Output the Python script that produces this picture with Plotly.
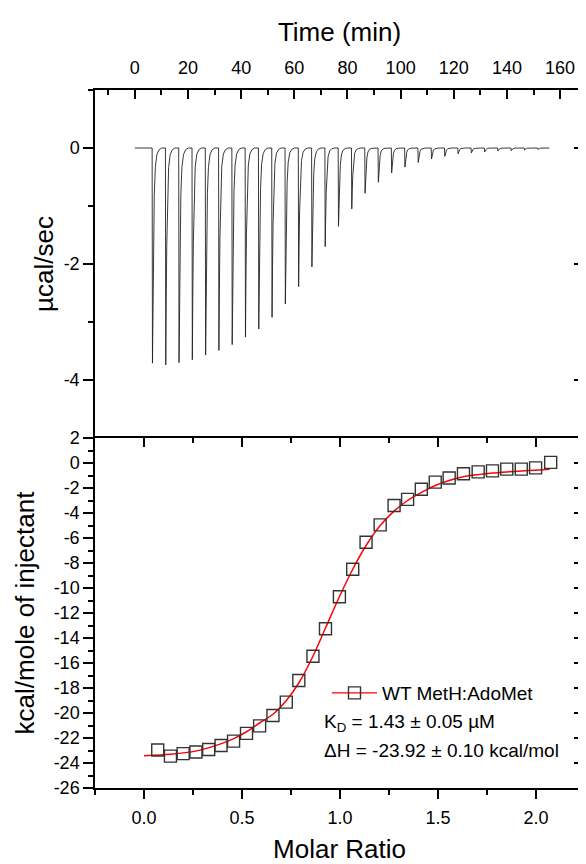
import plotly.graph_objects as go

FONT = "Liberation Sans, Arial, sans-serif"

# ---------------- Raw thermogram (top panel) ----------------
inj_start_min = [6.5, 11.5, 16.5, 21.5, 26.5, 31.5, 36.5, 41.5, 46.5, 51.5,
                 56.5, 61.5, 66.5, 71.5, 76.5, 81.5, 86.5, 91.5, 96.5, 101.5,
                 106.5, 111.5, 116.5, 121.5, 126.5, 131.5, 136.5, 141.5, 146.5, 151.5]
peak_ucal_s = [-3.71, -3.74, -3.70, -3.65, -3.57, -3.49, -3.39, -3.26, -3.12, -2.92,
               -2.69, -2.39, -2.05, -1.70, -1.35, -1.05, -0.78, -0.59, -0.43, -0.33,
               -0.25, -0.19, -0.145, -0.10, -0.086, -0.069, -0.052, -0.047, -0.035, -0.024]
baseline_start_min = 0.0
baseline_end_min = 156.0
# typical injection peak profile (time offset, fraction of peak)
profile_dt_min = [0.0, 0.12, 0.3, 0.5, 0.8, 1.2, 1.8, 2.6, 3.6]
profile_frac = [0.0, 1.0, 0.7, 0.45, 0.22, 0.09, 0.03, 0.008, 0.0]

time_ticks = [0, 20, 40, 60, 80, 100, 120, 140, 160]
time_ticktext = ["0", "20", "40", "60", "80", "100", "120", "140", "160"]
power_ticks = [0, -2, -4]
power_ticktext = ["0", "-2", "-4"]

# ---------------- Integrated heats (bottom panel) ----------------
molar_ratio = [0.07, 0.135, 0.20, 0.265, 0.33, 0.393, 0.457, 0.523, 0.59, 0.658,
               0.726, 0.79, 0.862, 0.926, 0.997, 1.065, 1.133, 1.205, 1.276, 1.345,
               1.415, 1.486, 1.557, 1.630, 1.705, 1.778, 1.851, 1.925, 1.998, 2.075]
heat_kcal = [-22.96, -23.45, -23.25, -23.12, -22.92, -22.6, -22.25, -21.63, -21.03, -20.2,
             -19.13, -17.4, -15.46, -13.26, -10.7, -8.5, -6.34, -4.95, -3.4, -2.91,
             -2.1, -1.53, -1.2, -0.86, -0.71, -0.63, -0.49, -0.49, -0.39, 0.05]

fit_x = [0.0, 0.136, 0.263, 0.395, 0.458, 0.523, 0.59, 0.658, 0.726, 0.79,
         0.862, 0.926, 0.997, 1.065, 1.133, 1.205, 1.276, 1.345, 1.416, 1.486,
         1.557, 1.63, 1.705, 1.778, 1.851, 1.925, 1.998, 2.07]
fit_y = [-23.42, -23.3, -23.05, -22.45, -22.05, -21.5, -20.8, -20.1, -19.0, -17.6,
         -15.46, -13.2, -10.7, -8.5, -6.6, -5.0, -3.85, -3.0, -2.35, -1.8,
         -1.4, -1.1, -0.93, -0.8, -0.71, -0.64, -0.57, -0.5]

ratio_ticks = [0.0, 0.5, 1.0, 1.5, 2.0]
ratio_ticktext = ["0.0", "0.5", "1.0", "1.5", "2.0"]
heat_ticks = [2, 0, -2, -4, -6, -8, -10, -12, -14, -16, -18, -20, -22, -24, -26]
heat_ticktext = ["2", "0", "-2", "-4", "-6", "-8", "-10", "-12", "-14", "-16",
                 "-18", "-20", "-22", "-24", "-26"]

legend_name = "WT MetH:AdoMet"
kd_text = "K<sub>D</sub> = 1.43 ± 0.05 µM"
dh_text = "ΔH = -23.92 ± 0.10 kcal/mol"

# build thermogram trace
t_vals = [baseline_start_min]
p_vals = [0.0]
for ts, h in zip(inj_start_min, peak_ucal_s):
    for dt, f in zip(profile_dt_min, profile_frac):
        t_vals.append(ts + dt)
        p_vals.append(h * f)
t_vals.append(baseline_end_min)
p_vals.append(0.0)

fig = go.Figure()
fig.add_trace(go.Scatter(x=t_vals, y=p_vals, mode="lines", xaxis="x", yaxis="y",
                         line=dict(color="#222222", width=0.9), showlegend=False,
                         hoverinfo="skip"))
fig.add_trace(go.Scatter(x=fit_x, y=fit_y, mode="lines", xaxis="x2", yaxis="y2",
                         line=dict(color="#ff0000", width=1.5, shape="spline", smoothing=0.8),
                         showlegend=False))
fig.add_trace(go.Scatter(x=molar_ratio, y=heat_kcal, mode="markers", xaxis="x2", yaxis="y2",
                         marker=dict(symbol="square-open", size=12, color="#333333",
                                     line=dict(width=1.4, color="#333333")),
                         showlegend=False))
# legend entry (line + square)
fig.add_trace(go.Scatter(x=[None], y=[None], mode="lines+markers", xaxis="x2", yaxis="y2",
                         name=legend_name,
                         line=dict(color="#ff0000", width=1.2),
                         marker=dict(symbol="square-open", size=12, color="#333333",
                                     line=dict(width=1.4, color="#333333"))))
# invisible traces to carry the mirror-tick axes
fig.add_trace(go.Scatter(x=[None], y=[None], xaxis="x", yaxis="y3", showlegend=False,
                         hoverinfo="skip"))
fig.add_trace(go.Scatter(x=[None], y=[None], xaxis="x4", yaxis="y4", showlegend=False,
                         hoverinfo="skip"))

split = 350 / 698
tickfont = dict(family=FONT, size=18, color="black")
titlefont = dict(family=FONT, size=26, color="black")
common = dict(showgrid=False, zeroline=False, linecolor="black", linewidth=1.5,
              tickcolor="black", tickwidth=1.5, tickfont=tickfont, automargin=False)

# page is offset by the 8px body margin, so the figure is sized 8px smaller
fig.update_layout(
    width=578, height=856,
    margin=dict(l=87, r=2, t=82, b=76),
    paper_bgcolor="white", plot_bgcolor="white",
    font=dict(family=FONT, color="black"),
    xaxis=dict(domain=[0, 1], anchor="y", side="top", range=[-15, 169],
               tickmode="array", tickvals=time_ticks, ticktext=time_ticktext,
               ticks="inside", ticklen=9, showline=True, mirror=False,
               ticklabelstandoff=7,
               minor=dict(tickmode="linear", tick0=0, dtick=10, ticks="inside",
                          ticklen=5, tickwidth=1.5, tickcolor="black"),
               title=dict(text="Time (min)", font=titlefont, standoff=9), **common),
    yaxis=dict(domain=[split, 1], anchor="x", range=[-5, 1],
               tickmode="array", tickvals=power_ticks, ticktext=power_ticktext,
               ticks="outside", ticklen=10, showline=True, mirror=True,
               minor=dict(tickmode="linear", tick0=0, dtick=1, ticks="outside",
                          ticklen=5, tickwidth=1.5, tickcolor="black"),
               title=dict(text="µcal/sec", font=titlefont, standoff=3), **common),
    yaxis3=dict(overlaying="y", anchor="x", side="right", range=[-5, 1],
                tickmode="array", tickvals=power_ticks, ticks="inside", ticklen=10,
                showticklabels=False, showline=False,
                minor=dict(tickmode="linear", tick0=0, dtick=1, ticks="inside",
                           ticklen=5, tickwidth=1.5, tickcolor="black"), **common),
    xaxis2=dict(domain=[0, 1], anchor="y2", range=[-0.25, 2.245],
                tickmode="array", tickvals=ratio_ticks, ticktext=ratio_ticktext,
                ticks="outside", ticklen=9, showline=True, mirror=True,
                ticklabelstandoff=4,
                minor=dict(tickmode="linear", tick0=0, dtick=0.25, ticks="outside",
                           ticklen=5, tickwidth=1.5, tickcolor="black"),
                title=dict(text="Molar Ratio", font=titlefont, standoff=22), **common),
    xaxis4=dict(overlaying="x2", anchor="y2", side="top", range=[-0.25, 2.245],
                tickmode="array", tickvals=ratio_ticks, ticks="inside", ticklen=9,
                showticklabels=False, showline=False,
                minor=dict(tickmode="linear", tick0=0, dtick=0.25, ticks="inside",
                           ticklen=5, tickwidth=1.5, tickcolor="black"), **common),
    yaxis2=dict(domain=[0, split], anchor="x2", range=[-26, 2],
                tickmode="array", tickvals=heat_ticks, ticktext=heat_ticktext,
                ticks="outside", ticklen=10, showline=True, mirror=True,
                minor=dict(tickmode="linear", tick0=0, dtick=1, ticks="outside",
                           ticklen=5, tickwidth=1.5, tickcolor="black"),
                title=dict(text="kcal/mole of injectant", font=titlefont, standoff=12), **common),
    yaxis4=dict(overlaying="y2", anchor="x4", side="right", range=[-26, 2],
                tickmode="array", tickvals=heat_ticks, ticks="inside", ticklen=10,
                showticklabels=False, showline=False,
                minor=dict(tickmode="linear", tick0=0, dtick=1, ticks="inside",
                           ticklen=5, tickwidth=1.5, tickcolor="black"), **common),
    legend=dict(x=(327 - 95) / 489, y=(788 - 693) / 698, xanchor="left", yanchor="middle",
                bgcolor="rgba(0,0,0,0)", borderwidth=0, itemwidth=45,
                font=dict(family=FONT, size=19, color="black")),
    annotations=[
        dict(text=kd_text, xref="paper", yref="paper", x=(322 - 95) / 489,
             y=(788 - 723) / 698, xanchor="left", yanchor="middle", showarrow=False,
             font=dict(family=FONT, size=19, color="black")),
        dict(text=dh_text, xref="paper", yref="paper", x=(322 - 95) / 489,
             y=(788 - 750) / 698, xanchor="left", yanchor="middle", showarrow=False,
             font=dict(family=FONT, size=19, color="black")),
    ],
)

fig.write_html("out.html")
